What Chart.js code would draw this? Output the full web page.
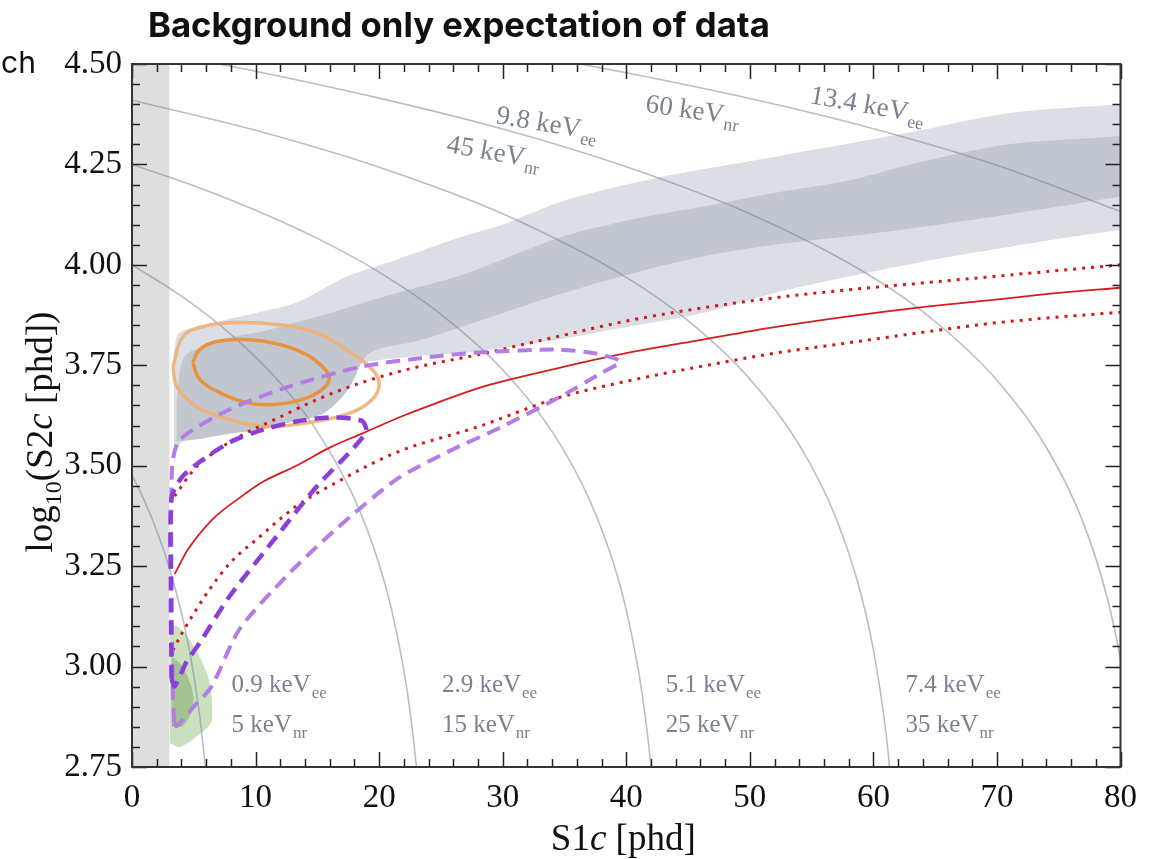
<!DOCTYPE html>
<html>
<head>
<meta charset="utf-8">
<script src="https://cdn.jsdelivr.net/npm/chart.js@4.4.1/dist/chart.umd.min.js"></script>
<style>
  body { margin: 0; background: #fff; }
  #wrap { width: 1149px; height: 859px; }
</style>
</head>
<body>
<div id="wrap"><canvas id="s1s2Chart"></canvas></div>
<script>
// S1c vs log10(S2c) — background only expectation of data

const xTickValues = [0, 10, 20, 30, 40, 50, 60, 70, 80];
const yTickLabels = ['2.75', '3.00', '3.25', '3.50', '3.75', '4.00', '4.25', '4.50'];

const s1Threshold = 3.05;

// background model bands (outer = light, inner = dark)
const bgOuterUpper = [[3.4,3.78],[3.8,3.83],[6,3.85],[7.9,3.865],[10,3.88],[13.3,3.906],[17.3,3.97],[21.4,4.013],[26.7,4.07],[30,4.10],[35,4.16],[43,4.22],[52.2,4.27],[63,4.33],[71,4.378],[80,4.40]];
const bgOuterLower = [[3.4,3.50],[3.9,3.555],[6,3.59],[7.9,3.63],[10,3.66],[12.7,3.69],[16,3.73],[19.4,3.76],[24,3.775],[28,3.785],[34.5,3.814],[40,3.845],[46.2,3.88],[52,3.93],[58,3.971],[64,4.008],[69.7,4.038],[75,4.065],[80,4.087]];
const bgInnerUpper = [[3.6,3.66],[4.2,3.77],[6,3.80],[8,3.82],[10.6,3.835],[14.9,3.87],[21.4,3.93],[26.7,3.975],[34.5,4.067],[40,4.11],[46.2,4.145],[52.2,4.18],[58,4.21],[63,4.25],[71,4.30],[80,4.32]];
const bgInnerLower = [[3.6,3.56],[5.2,3.565],[8,3.58],[10.6,3.59],[13,3.61],[15.5,3.63],[17.5,3.69],[19.2,3.78],[23,3.81],[26.7,3.846],[30,3.88],[34.5,3.926],[40,3.975],[46.2,4.021],[52,4.05],[58,4.071],[64,4.095],[69.7,4.12],[75,4.145],[80,4.17]];

// green contours
const greenOuterUpper = [[3.05,3.11],[4.1,3.09],[5.2,3.04],[6.1,2.98],[6.5,2.92]];
const greenOuterLower = [[3.05,2.81],[3.9,2.80],[5.2,2.825],[6.4,2.86],[6.5,2.92]];
const greenInnerUpper = [[3.2,3.026],[4.1,3.0],[4.8,2.95],[5.0,2.92]];
const greenInnerLower = [[3.2,2.85],[4.1,2.852],[4.8,2.887],[5.0,2.92]];

// orange contours
const orangeOuter = [[3.31,3.747],[4.11,3.821],[5.6,3.845],[7.9,3.856],[11.94,3.851],[14.92,3.831],[17.34,3.789],[19.19,3.747],[20.0,3.707],[19.44,3.665],[17.34,3.628],[13.31,3.603],[10.56,3.598],[7.9,3.615],[5.24,3.647],[3.63,3.697],[3.31,3.747]];
const orangeInner = [[4.92,3.757],[5.48,3.789],[6.85,3.809],[9.27,3.814],[11.94,3.802],[14.11,3.777],[15.4,3.747],[15.97,3.719],[15.4,3.69],[13.79,3.665],[11.37,3.652],[9.27,3.657],[7.1,3.682],[5.48,3.715],[4.92,3.757]];

// purple contours
const purpleOuter = [[3.4,2.86],[3.6,2.852],[5,2.90],[6.45,2.951],[8.7,3.093],[12.5,3.225],[16.5,3.342],[21.4,3.466],[25.6,3.535],[30,3.598],[34.5,3.669],[38,3.731],[39.5,3.76],[37.4,3.78],[34.5,3.789],[28.1,3.782],[24,3.77],[18.6,3.747],[12.7,3.697],[7.9,3.64],[3.87,3.565],[3.25,3.50],[3.2,3.2],[3.3,2.95],[3.4,2.86]];
const purpleInner = [[3.2,2.97],[3.45,2.951],[4.4,3.011],[5.5,3.06],[7.9,3.175],[11.7,3.324],[15,3.45],[17.5,3.53],[18.95,3.585],[18.6,3.612],[16,3.62],[13.3,3.61],[10.6,3.59],[7.9,3.558],[5.5,3.51],[4,3.47],[3.2,3.42],[3.15,3.2],[3.2,2.97]];

// red NR band: median and 10/90 %
const redMedian = [[3.45,3.23],[4.5,3.29],[6.5,3.366],[8.7,3.42],[10.6,3.46],[13.3,3.50],[16,3.545],[18.6,3.58],[22,3.625],[25,3.66],[28.1,3.694],[34.5,3.743],[40,3.78],[46.2,3.814],[52,3.845],[58,3.872],[64,3.895],[69.7,3.913],[75,3.93],[80,3.943]];
const redUpper = [[3.45,3.424],[5,3.49],[6.5,3.53],[8.7,3.573],[11.9,3.62],[15,3.665],[18.6,3.707],[23,3.745],[28.1,3.777],[34.5,3.822],[40,3.86],[46.2,3.893],[52,3.918],[58,3.938],[64,3.955],[69.7,3.971],[75,3.986],[80,4.0]];
const redLower = [[3.3,3.04],[4.1,3.086],[6.3,3.193],[8,3.26],[10.1,3.317],[13.3,3.399],[17,3.466],[21.4,3.533],[28.1,3.598],[34.5,3.669],[40,3.71],[46.2,3.748],[52,3.78],[58,3.806],[64,3.832],[69.7,3.855],[75,3.87],[80,3.882]];

// constant energy contours
const energyCurves = [
  [[0,3.477],[1,3.413],[2,3.338],[3,3.248],[4,3.134],[4.5,3.063],[5,2.978],[5.5,2.872],[6,2.732]],
  [[0,4.0],[4,3.922],[8,3.827],[12,3.706],[15,3.585],[18,3.418],[20,3.255],[21,3.143],[22,2.991],[22.5,2.889],[23,2.756],[23.3,2.65]],
  [[0,4.25],[5,4.197],[10,4.136],[15,4.066],[20,3.982],[25,3.877],[30,3.739],[34,3.585],[37,3.417],[39,3.254],[40,3.141],[41,2.988],[41.5,2.885],[42,2.75],[42.3,2.64]],
  [[0,4.41],[10,4.335],[20,4.243],[30,4.127],[40,3.969],[45,3.861],[50,3.716],[54,3.552],[57,3.368],[59,3.18],[60,3.043],[61,2.841],[61.5,2.689]],
  [[0,4.54],[5,4.512],[10,4.482],[20,4.415],[30,4.338],[40,4.244],[50,4.127],[60,3.968],[65,3.859],[70,3.713],[74,3.546],[77,3.357],[79,3.162],[80,3.017],[80.5,2.92]],
  [[25,4.56],[30,4.534],[35,4.507],[40,4.478],[50,4.414],[60,4.339],[70,4.248],[80,4.133]]
];

const curveLabels = [
  {main: '0.9 keV', sub: 'ee', x: 8.06, y: 2.9365},
  {main: '5 keV', sub: 'nr', x: 8.06, y: 2.837},
  {main: '2.9 keV', sub: 'ee', x: 25.08, y: 2.9365},
  {main: '15 keV', sub: 'nr', x: 25.08, y: 2.837},
  {main: '5.1 keV', sub: 'ee', x: 43.2, y: 2.9365},
  {main: '25 keV', sub: 'nr', x: 43.2, y: 2.837},
  {main: '7.4 keV', sub: 'ee', x: 62.6, y: 2.9365},
  {main: '35 keV', sub: 'nr', x: 62.6, y: 2.837},
  {main: '9.8 keV', sub: 'ee', x: 29.4, y: 4.353, rot: 9.5},
  {main: '45 keV', sub: 'nr', x: 25.4, y: 4.281, rot: 10},
  {main: '60 keV', sub: 'nr', x: 41.5, y: 4.381, rot: 8},
  {main: '13.4 keV', sub: 'ee', x: 54.8, y: 4.403, rot: 10}
];

const titleText = 'Background only expectation of data';

const pts = arr => arr.map(([x, y]) => ({x, y}));
function line(data, opts) {
  return Object.assign({data: pts(data), showLine: true, pointRadius: 0, fill: false, borderWidth: 1.5}, opts);
}
const hidden = {borderColor: 'transparent', borderWidth: 0};

const datasets = [
  line([[0, 4.5], [s1Threshold, 4.5]], Object.assign({fill: 'start', backgroundColor: '#dedede', order: 20}, hidden)),
  line(bgOuterUpper, Object.assign({fill: '+1', backgroundColor: 'rgb(219,222,228)', tension: 0.3, order: 19}, hidden)),
  line(bgOuterLower, Object.assign({tension: 0.3, order: 19}, hidden)),
  line(bgInnerUpper, Object.assign({fill: '+1', backgroundColor: 'rgb(193,198,207)', tension: 0.3, order: 18}, hidden)),
  line(bgInnerLower, Object.assign({tension: 0.3, order: 18}, hidden)),
  line(greenOuterUpper, Object.assign({fill: '+1', backgroundColor: 'rgba(150,195,130,0.5)', tension: 0.3, order: 17}, hidden)),
  line(greenOuterLower, Object.assign({tension: 0.3, order: 17}, hidden)),
  line(greenInnerUpper, Object.assign({fill: '+1', backgroundColor: 'rgba(110,160,90,0.45)', tension: 0.3, order: 16}, hidden)),
  line(greenInnerLower, Object.assign({tension: 0.3, order: 16}, hidden))
];
energyCurves.forEach(c => datasets.push(line(c, {
  borderColor: 'rgba(125,135,152,0.55)', borderWidth: 1.6, cubicInterpolationMode: 'monotone', order: 15
})));
datasets.push(
  line(orangeOuter, {borderColor: 'rgba(238,176,116,0.9)', borderWidth: 3.5, tension: 0.4, order: 14}),
  line(orangeInner, {borderColor: 'rgb(232,146,62)', borderWidth: 3.5, tension: 0.4, order: 13}),
  line(redLower, {borderColor: 'rgb(210,25,25)', borderWidth: 3, borderDash: [3, 6], cubicInterpolationMode: 'monotone', order: 12}),
  line(redUpper, {borderColor: 'rgb(210,25,25)', borderWidth: 3, borderDash: [3, 6], cubicInterpolationMode: 'monotone', order: 12}),
  line(redMedian, {borderColor: 'rgb(212,30,30)', borderWidth: 1.8, cubicInterpolationMode: 'monotone', order: 12}),
  line(purpleOuter, {borderColor: 'rgb(180,125,230)', borderWidth: 4, borderDash: [14, 8], tension: 0.25, order: 11}),
  line(purpleInner, {borderColor: 'rgb(138,63,217)', borderWidth: 4.5, borderDash: [14, 8], tension: 0.25, order: 10})
);

const decor = {
  id: 'decor',
  afterDraw(chart) {
    const {ctx, chartArea: a, scales: {x, y}} = chart;
    ctx.save();

    // curve labels
    ctx.fillStyle = 'rgb(122,130,143)';
    ctx.textBaseline = 'alphabetic';
    ctx.textAlign = 'left';
    curveLabels.forEach(l => {
      const size = l.rot ? 27 : 25;
      ctx.save();
      ctx.translate(x.getPixelForValue(l.x), y.getPixelForValue(l.y));
      ctx.rotate((l.rot || 0) * Math.PI / 180);
      ctx.font = size + 'px "Liberation Serif"';
      ctx.fillText(l.main, 0, 0);
      const w = ctx.measureText(l.main).width;
      ctx.font = Math.round(size * 0.68) + 'px "Liberation Serif"';
      ctx.fillText(l.sub, w + 1, size * 0.25);
      ctx.restore();
    });

    // ticks on all four sides, pointing inward
    ctx.strokeStyle = '#222';
    ctx.lineWidth = 1.5;
    ctx.beginPath();
    for (let v = 0; v <= 80; v += 2) {
      const px = Math.round(x.getPixelForValue(v)) + 0.5;
      const len = v % 10 === 0 ? 15 : 8;
      ctx.moveTo(px, a.bottom); ctx.lineTo(px, a.bottom - len);
      ctx.moveTo(px, a.top); ctx.lineTo(px, a.top + len);
    }
    for (let i = 0; i <= 35; i++) {
      const py = Math.round(y.getPixelForValue(2.75 + i * 0.05)) + 0.5;
      const len = i % 5 === 0 ? 15 : 8;
      ctx.moveTo(a.left, py); ctx.lineTo(a.left + len, py);
      ctx.moveTo(a.right, py); ctx.lineTo(a.right - len, py);
    }
    ctx.stroke();
    ctx.lineWidth = 2;
    ctx.strokeStyle = '#333';
    ctx.strokeRect(a.left, a.top, a.right - a.left, a.bottom - a.top);

    // x axis title
    ctx.fillStyle = '#111';
    const serif = '37px "Liberation Serif"';
    const serifIt = 'italic 37px "Liberation Serif"';
    const xParts = [['S1', serif], ['c', serifIt], [' [phd]', serif]];
    let total = 0;
    xParts.forEach(([t, f]) => { ctx.font = f; total += ctx.measureText(t).width; });
    let cx = (a.left + a.right) / 2 - total / 2 - 3;
    xParts.forEach(([t, f]) => { ctx.font = f; ctx.fillText(t, cx, 850); cx += ctx.measureText(t).width; });

    // y axis title with subscript
    const sub = '24px "Liberation Serif"';
    const yParts = [['log', serif, 0], ['10', sub, 9], ['(S2', serif, 0], ['c', serifIt, 0], [' [phd])', serif, 0]];
    total = 0;
    yParts.forEach(([t, f]) => { ctx.font = f; total += ctx.measureText(t).width; });
    ctx.save();
    ctx.translate(52, 432);
    ctx.rotate(-Math.PI / 2);
    cx = -total / 2;
    yParts.forEach(([t, f, dy]) => { ctx.font = f; ctx.fillText(t, cx, dy); cx += ctx.measureText(t).width; });
    ctx.restore();

    // title
    ctx.fillStyle = '#111';
    ctx.font = '700 30px Inter';
    const tw = ctx.measureText(titleText).width;
    ctx.font = '700 ' + (30 * 622 / tw).toFixed(1) + 'px Inter';
    ctx.fillText(titleText, 148, 37);

    // leftover text fragment at the page edge
    ctx.font = '30px Inter';
    ctx.fillText('ch', 1, 73);

    ctx.restore();
  }
};

Chart.defaults.font.family = 'Liberation Serif';

const tickFont = {family: 'Liberation Serif', size: 33};

new Chart(document.getElementById('s1s2Chart'), {
  type: 'scatter',
  data: {datasets: datasets},
  options: {
    responsive: true,
    maintainAspectRatio: false,
    animation: false,
    layout: {padding: {top: 64, right: 24, bottom: 0, left: 0}},
    plugins: {legend: {display: false}, tooltip: {enabled: false}, title: {display: false}},
    scales: {
      x: {
        type: 'linear', min: 0, max: 80,
        afterBuildTicks: s => { s.ticks = xTickValues.map(v => ({value: v})); },
        ticks: {font: tickFont, color: '#111', padding: 12, maxRotation: 0, callback: v => String(v)},
        grid: {display: false, drawTicks: false},
        border: {display: false},
        afterFit: s => { s.height = 92; }
      },
      y: {
        type: 'linear', min: 2.75, max: 4.5,
        afterBuildTicks: s => { s.ticks = yTickLabels.map(t => ({value: parseFloat(t)})); },
        ticks: {font: tickFont, color: '#111', padding: 10, callback: v => yTickLabels.find(t => parseFloat(t) === v) || v.toFixed(2)},
        grid: {display: false, drawTicks: false},
        border: {display: false},
        afterFit: s => { s.width = 132; }
      }
    }
  },
  plugins: [decor]
});
</script>
</body>
</html>
